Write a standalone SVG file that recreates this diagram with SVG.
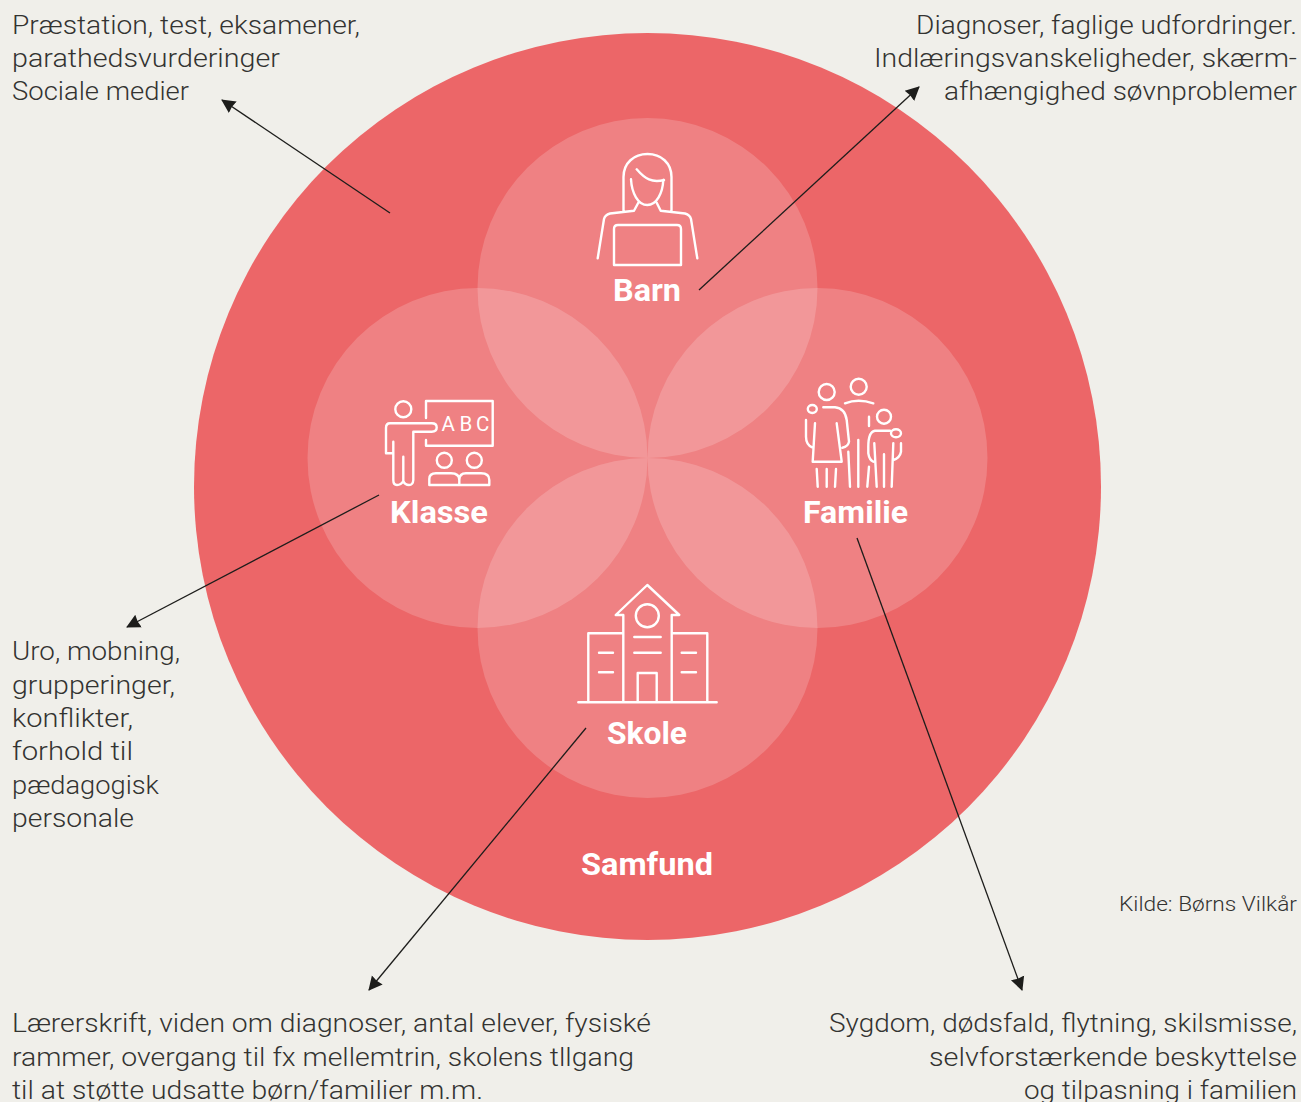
<svg xmlns="http://www.w3.org/2000/svg" width="1301" height="1102" viewBox="0 0 1301 1102">
<style>
.t{font-family:"Roboto","Liberation Sans",sans-serif;font-weight:300;font-size:26px;fill:#333331}
.l{font-family:"Roboto","Liberation Sans",sans-serif;font-weight:700;font-size:31px;fill:#fff;text-anchor:middle}
.c{fill:#fff;fill-opacity:.18}
.i{fill:none;stroke:#fff;stroke-width:2.4;stroke-linecap:round;stroke-linejoin:round}
.a{stroke:#1d1d1b;stroke-width:1.3;fill:none;marker-end:url(#ah)}
</style>
<defs><marker id="ah" markerUnits="userSpaceOnUse" markerWidth="16" markerHeight="16" refX="13" refY="8" orient="auto"><path d="M0 1L14 8L0 15L1 8Z" fill="#1d1d1b"/></marker></defs>
<rect width="1301" height="1102" fill="#f0efea"/>
<g id="samfund">
<circle cx="647.5" cy="486.5" r="453.5" fill="#ec6668"/>
<text class="l" x="647" y="874.5" textLength="132" lengthAdjust="spacingAndGlyphs">Samfund</text>
</g>
<g id="barn">
<circle class="c" cx="647.5" cy="288" r="170"/>
<path class="i" d="M623.5 211V177C623.5 163 634 154 647.5 154C661 154 671.5 163 671.5 177V211M636.7 169.3C645 179 652 183 664 180M631 179.3C631.7 193 638 205 647.3 205C656.7 205 662.7 193 663.3 180M638.3 202.7L634 210.7L610 213.5Q605 215 604 219L597.7 258.3M656.7 202.7L660.7 210.7L685 213.5Q690 215 691 219L697.3 258.3M614 265V229Q614 225 618 225H677Q681 225 681 229V265Z"/>
<text class="l" x="647" y="300.5" textLength="68" lengthAdjust="spacingAndGlyphs">Barn</text>
</g>
<g id="klasse">
<circle class="c" cx="477.5" cy="458" r="170"/>
<circle class="i" cx="403.3" cy="409.3" r="8"/>
<path class="i" d="M426 418V401H492.7V445.7H426V440M390 423.3H431.7Q436.7 423.3 436.7 427.5Q436.7 431.7 431.7 431.7H413.3V480Q413 485 409 485Q405 485 403.3 481Q401 485 397 485Q393.3 485 393.3 480V453.3H386V428Q386 423.3 390 423.3M403.3 456.7V481M393.3 441.7V453.3M429.3 485V479Q429.3 473.3 436 473.3H451Q459.3 473.3 459.3 480V485M459.3 480Q459.3 473.3 466 473.3H481Q489.3 473.3 489.3 480V485H429.3"/>
<circle class="i" cx="444.3" cy="460.3" r="7.5"/>
<circle class="i" cx="474.3" cy="460.3" r="7.5"/>
<text x="441.5" y="431" style="font-family:Roboto,sans-serif;font-weight:400;font-size:20.5px;fill:#fff">A</text>
<text x="459.5" y="431" style="font-family:Roboto,sans-serif;font-weight:400;font-size:20.5px;fill:#fff">B</text>
<text x="476" y="431" style="font-family:Roboto,sans-serif;font-weight:400;font-size:20.5px;fill:#fff">C</text>
<text class="l" x="439" y="522.5" textLength="98" lengthAdjust="spacingAndGlyphs">Klasse</text>
</g>
<g id="familie">
<circle class="c" cx="817.5" cy="458" r="170"/>
<circle class="i" cx="826.7" cy="392" r="8"/>
<circle class="i" cx="858.7" cy="386.7" r="8"/>
<circle class="i" cx="884" cy="416.7" r="7"/>
<ellipse class="i" cx="812.3" cy="409" rx="4.5" ry="4"/>
<ellipse class="i" cx="896" cy="433.3" rx="5" ry="4"/>
<path class="i" d="M823.3 407.3H835Q845 408.3 846.7 420L849 441.7Q848.3 446.7 842.3 447.7M836.7 423.3L841.7 461.7H812.7L815 423.3M806 420V436.7Q806 445 812.7 447.7M816.7 469L817.7 486.7M826.7 469V486.7M836 469L835 486.7M848.3 451.7L850 486.7M858.3 440V486.7M869 466.7L867.3 486.7M845 403.3Q858.3 398.3 873.3 403.3M869 416.7V426M890 430.7H875Q868.3 431.7 868.3 446.7V453.3Q869.3 460 873.3 461.7M874.3 443.3L876.7 486.7M884 454.3V486.7M893.3 443.3L891.7 486.7M901 443.3V451.7Q900 457.7 893.3 460"/>
<text class="l" x="855.5" y="522.5" textLength="105" lengthAdjust="spacingAndGlyphs">Familie</text>
</g>
<g id="skole">
<circle class="c" cx="647.5" cy="628" r="170"/>
<circle class="i" cx="647.3" cy="615.7" r="11.5"/>
<path class="i" d="M623.3 702.3V615H615.7L647.3 585L679.3 615H671.7V702.3M623.3 633.3H588.3V702.3M671.7 633.3H707.3V702.3M578.3 702.3H716.7M637.7 702.3V673H656.7V702.3M634.3 637H660.7M634.3 652.7H660.7M599 652.7H613M599 672.3H613M681.7 652.7H696M681.7 672.3H696"/>
<text class="l" x="647" y="743.5" textLength="80" lengthAdjust="spacingAndGlyphs">Skole</text>
</g>
<g id="connectors">
<path class="a" d="M390 213L222 100"/>
<path class="a" d="M699 290L919 87"/>
<path class="a" d="M379 495L127 627"/>
<path class="a" d="M586 728L369 990"/>
<path class="a" d="M857 538L1022 990"/>
</g>
<g id="labels">
<text class="t" x="12" y="34" textLength="348" lengthAdjust="spacingAndGlyphs">Præstation, test, eksamener,</text>
<text class="t" x="12" y="67" textLength="268" lengthAdjust="spacingAndGlyphs">parathedsvurderinger</text>
<text class="t" x="12" y="100" textLength="177" lengthAdjust="spacingAndGlyphs">Sociale medier</text>
<text class="t" x="916" y="34" textLength="381" lengthAdjust="spacingAndGlyphs">Diagnoser, faglige udfordringer.</text>
<text class="t" x="874" y="67" textLength="423" lengthAdjust="spacingAndGlyphs">Indlæringsvanskeligheder, skærm-</text>
<text class="t" x="944" y="100" textLength="353" lengthAdjust="spacingAndGlyphs">afhængighed søvnproblemer</text>
<text class="t" x="12" y="660" textLength="168" lengthAdjust="spacingAndGlyphs">Uro, mobning,</text>
<text class="t" x="12" y="694" textLength="163" lengthAdjust="spacingAndGlyphs">grupperinger,</text>
<text class="t" x="12" y="727" textLength="121" lengthAdjust="spacingAndGlyphs">konflikter,</text>
<text class="t" x="12" y="760" textLength="121" lengthAdjust="spacingAndGlyphs">forhold til</text>
<text class="t" x="12" y="794" textLength="147" lengthAdjust="spacingAndGlyphs">pædagogisk</text>
<text class="t" x="12" y="827" textLength="122" lengthAdjust="spacingAndGlyphs">personale</text>
<text class="t" x="12" y="1032" textLength="639" lengthAdjust="spacingAndGlyphs">Lærerskrift, viden om diagnoser, antal elever, fysiské</text>
<text class="t" x="12" y="1066" textLength="622" lengthAdjust="spacingAndGlyphs">rammer, overgang til fx mellemtrin, skolens tllgang</text>
<text class="t" x="12" y="1099" textLength="471" lengthAdjust="spacingAndGlyphs">til at støtte udsatte børn/familier m.m.</text>
<text class="t" x="829" y="1032" textLength="468" lengthAdjust="spacingAndGlyphs">Sygdom, dødsfald, flytning, skilsmisse,</text>
<text class="t" x="929" y="1066" textLength="368" lengthAdjust="spacingAndGlyphs">selvforstærkende beskyttelse</text>
<text class="t" x="1024" y="1099" textLength="273" lengthAdjust="spacingAndGlyphs">og tilpasning i familien</text>
<text class="t" x="1119" y="911" style="font-size:20px" textLength="178" lengthAdjust="spacingAndGlyphs">Kilde: Børns Vilkår</text>
</g>
</svg>
